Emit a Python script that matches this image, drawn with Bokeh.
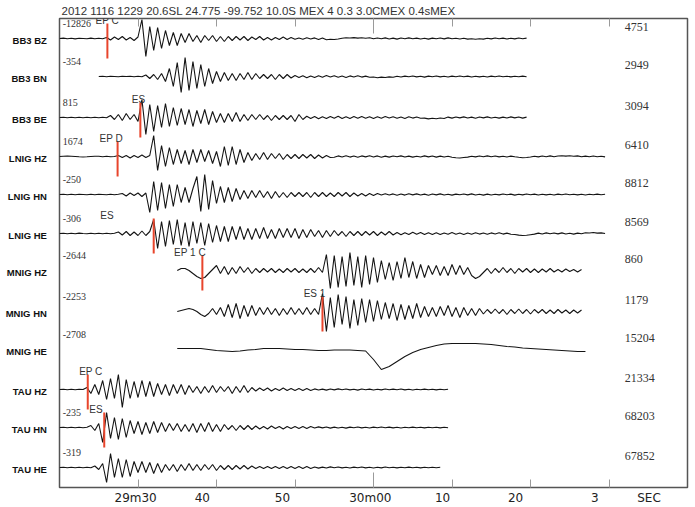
from bokeh.plotting import figure
from bokeh.models import Range1d, FixedTicker, LinearAxis, ColumnDataSource
from bokeh.core.properties import value
from bokeh.embed import file_html
from bokeh.resources import INLINE

# ---------------- data (time in seconds after 29m20s, amplitudes in display units) --------------
header = "2012 1116 1229 20.6SL  24.775 -99.752 10.0S MEX  4 0.3 3.0CMEX 0.4sMEX"
stations = ["BB3  BZ", "BB3  BN", "BB3  BE", "LNIG  HZ", "LNIG  HN", "LNIG  HE",
            "MNIG  HZ", "MNIG  HN", "MNIG  HE", "TAU  HZ", "TAU  HN", "TAU  HE"]
left_counts = ["-12826", "-354", "815", "1674", "-250", "-306",
               "-2644", "-2253", "-2708", "", "-235", "-319"]
right_counts = ["4751", "2949", "3094", "6410", "8812", "8569",
                "860", "1179", "15204", "21334", "68203", "67852"]
trace_start = [0, 5, 0, 0, 0, 0, 15, 15, 15, 0, 0, 0]
trace_step = [0.5, 0.5, 0.5, 0.5, 0.5, 0.5, 0.5, 0.5, 1.0, 0.5, 0.5, 0.5]

tick_seconds = [10, 20, 30, 40, 50, 60, 70]
minute_ticks = [40]
tick_labels = ["29m30", "40", "50", "30m00", "10", "20", "3", "SEC"]
label_seconds = [9.7, 18.2, 28.4, 39.6, 48.8, 58.1, 68.2, 75.1]

pick_rows = [0, 2, 3, 5, 6, 7, 9, 10]
pick_seconds = [6.1, 10.3, 7.4, 12.0, 18.2, 33.5, 3.6, 5.7]
pick_names = ["EP  C", "ES", "EP  D", "ES", "EP  1 C", "ES  1", "EP  C", "ES"]
pick_label_seconds = [4.6, 9.2, 5.1, 5.2, 14.6, 31.1, 2.5, 3.8]

bb3_bz = [0, 0.4, -0.3, 0.3, -0.4, 0.3, 0, -0.3, 0.4, -0.3, 0.3, -0.2,
          1, -1.5, 1.5, -1, 2, -1.5, 1, -2, 1.5,
          19, -18, 12, -12, 11, -10,
          8, -7, 6, -7, 5, -4, 5,
          -3, 3, -4, 3, -2, 3, -3, 2, -3, 2,
          -2, 2, -1.5, 2, -2, 1.5, -1, 2, -1.5, 1, -1.5, 1, -1, 1.5, -1, 1,
          -0.8, 0.6, -0.7, 0.8, -0.5, 0.6, -0.9, 0.5, -1.2, -0.8,
          -1.0, -0.5, 0.3, 0.8, 0.5, 0.9, 0.4, 0.7, 0.2, 0.8,
          -0.3, 0.5, -0.2, 0.6, -0.5, 0.4, -0.6, 0.5, -0.3, 0.6,
          -0.2, 0.4, -0.5, 0.3, -0.6, 0.4, -0.2, 0.5, -0.4, 0.6,
          -0.3, 0.3, -0.5, 0.2, -0.6, -0.2, -0.7, -0.3, -0.6, 0.2,
          -0.4, 0.5, -0.2, 0.4, -0.5, 0.3, -0.4, 0.5, -0.3, 0.4]
bb3_bn = [0, 0.3, -0.3, 0.3, 0, -0.3, 0.3, 0, 0.3, -0.3, 0.3, -0.3,
          1.5, -2, 2, -3, 3,
          -5, 8, -10, 14, -16, 19, -14, 15, -12,
          12, -10, 8, -7,
          5, -5, 4, -4, 3, -4, 3, -3, 4, -3,
          3, -2, 2, -2, 2, -3, 2, -2, 2, -1.5,
          1, -1, 0.8, -1.2, 0.6, -1, 0.7, -0.8, 0.9, -0.6,
          0.8, -0.7, 0.5, -0.9, 0.6, -0.5, 0.7, -0.6, 0.4, -0.8,
          -0.5, -1.2, -0.6, -1, -0.4, -0.8, 0.3, -0.5, 0.4, -0.3,
          0.5, -0.4, 0.3, -0.6, 0.4, -0.3, 0.5, -0.4, 0.3, -0.5,
          0.4, -0.3, 0.5, -0.2, 0.4, -0.5, 0.3, -0.4, 0.2, -0.5,
          0.4, -0.3, 0.5, -0.2, 0.3, -0.4, 0.2, -0.3, 0.4, -0.2]
bb3_be = [0, 0.3, -0.3, 0.3, -0.2, 0.3, -0.3, 0.2, -0.3, 0.3, -0.2, 0.3, -0.3,
          2, -2, 3, -3, 4, -2, 3, -4,
          18, -17, 13, -14, 12, -10, 14,
          -9, 10, -8, 9, -7, 8, -9, 7, -6, 8, -7, 6,
          -5, 4, -5, 4, -4, 5, -4, 3,
          -3, 3, -2, 3, -2, 2, -3, 2, -2, 2, -2, 2,
          -4, 3, -2,
          1.2, -1, 1, -1.2, 0.8, -1, 1, -0.8, 1.2, -1,
          0.8, -1, 0.9, -0.8, 1, -0.7, 0.8, -1, 0.7, -0.8,
          0.9, -0.6, 0.8, -0.7, 0.6, -0.9, 0.7, -0.6, 0.5, -0.8,
          -0.6, -1.4, -0.8, -1.3, -0.5, -1, 0.4, -0.6, 0.5, -0.4,
          0.6, -0.5, 0.4, -0.7, 0.5, -0.4, 0.6, -0.5, 0.3, -0.6,
          0.4, -0.5, 0.6, -0.4, 0.5, -0.6, 0.4]
lnig_hz = [0, 0.3, 0.5, 0.3, 0, -0.3, -0.5, -0.3, 0, 0.3, 0.2, -0.3, 0.3, -0.2, 0,
           1, -1, 1, -1.5, 1, -1, 1.5, -1, 1,
           21, -14, 11, -10, 9,
           -8, 7, -7, 6, -8, 7, -6, 7, -5, 6, -7, 5,
           -10, 10, -9, 10, -8, 7, -6,
           4, -4, 3, -3, 4, -3, 3, -2, 3, -3, 2, -2,
           2, -2, 2, -1.5, 2, -2, 1.5, -1.5, 1, -1,
           -0.7, 0.6, -0.5, 0.8, -0.6, 0.5, -0.7, 0.6, -0.4, 0.7,
           -0.5, 0.6, -0.8, 0.4, -0.6, 0.5, -0.3, 0.6, -0.5, 0.4,
           -0.6, 0.3, -0.5, 0.6, -0.4, 0.5, -0.6, 0.4, -0.5, 0.3,
           -0.8, -1.2, -1.5, -1.0, -0.6, 0.2, -0.4, 0.5, -0.3, 0.6,
           -0.2, 0.5, -0.4, 0.3, -0.5, 0.4, -0.3, -0.8, -1.2, -1.0,
           -0.5, 0.3, -0.4, 0.5, -0.2, 0.6, -0.3, 0.5, 0.8, 0.4,
           0.7, 0.3, 0.6, -0.2, 0.4, -0.3, 0.5, -0.2, 0.3, -0.4]
lnig_hn = [0, 0.3, -0.3, 0.3, -0.3, 0.3, 0, -0.3, 0.3, -0.3, 0.3, 0, -0.3, 0.3, -0.3, 0.3,
           1, -1.5, 1.5, -1, 1.5, -2, 1.5,
           -18, 13, -16, 12, -14, 10, -12, 10,
           -8, 7, -8, 6,
           18, -17, 20, -15, 14,
           -9, 8, -8, 7, -7, 6,
           -5, 4, -4, 4, -3, 4, -3, 3, -4, 3, -3, 2, -3, 2,
           -2, 2, -2, 2, -3, 2, -2, 2, -2, 1.5, -2, 2, -1.5, 2, -2, 1.5, -1.5, 1, -1.5, 1, -1, 1,
           -0.6, 0.7, -0.5, 0.6, -0.7, 0.5, -0.6, 0.8, -0.4, 0.6,
           -0.5, 0.4, -0.7, 0.5, -0.4, 0.6, -0.5, 0.3, -0.6, 0.4,
           -0.3, 0.5, -0.4, 0.6, -0.5, 0.3, -0.6, 0.4, -0.5, 0.2,
           -0.4, 0.5, -0.3, 0.4, -0.6, 0.3, -0.4, 0.5, -0.2, 0.4,
           -0.5, 0.3, -0.4, 0.2, -0.5, 0.4, -0.3, 0.5, -0.2, 0.3,
           -0.4, 0.3, -0.5, 0.2, -0.3, 0.4, -0.2, 0.3]
lnig_he = [0, 0.3, -0.3, 0.3, -0.3, 0.4, 0, -0.3, 0.3, -0.3, 0.3, -0.2, 0.3, -0.3, 0.3,
           1.5, -1.5, 2, -2, 1.5, -2, 2.5, -2, 2,
           14, -15, 12, -13, 13, -11, 14, -12, 11, -13, 12, -10, 11, -12, 10, -9,
           8, -8, 7, -8, 7, -6, 7, -6,
           5, -6, 5, -5, 6, -5, 4, -5, 5, -4, 5, -4,
           5, -5, 4, -4, 4, -3, 3, -4, 3, -3, 3, -2,
           2, -3, 2, -2, 2, -2, 2, -1.5, 2, -2, 1.5, -1.5, 2, -1.5,
           1, -1.2, 0.8, -1, 1.2, -0.8, 1, -1, 0.7, -0.9,
           0.8, -1, 0.6, -0.8, 0.9, -0.7, 0.5, -0.9, 0.6, -0.7,
           0.8, -0.6, 0.5, -0.8, 0.6, -0.5, 0.7, -0.6, 0.4, -0.7,
           -1, -1.6, -2, -1.8, -1.2, -0.6, 0.4, -0.5, 0.6, -0.3,
           0.5, -0.4, 0.6, -0.5, 0.3, -0.6, 0.4, -0.3, 0.8, 0.5,
           1, 0.4, 0.6, 0]
mnig_hz = [0, 2, 2, 0, -3, -6, -8, -7,
           -3, 1,
           5, -3, 4, -4, 3, -3, 4, -2, 3, -3,
           2, -2, 2, -1.5, 2, -2, 1.5, -2, 2, -1.5, 2, -2, 1.5, -2, 2, -2, 3, -2,
           16, -18, 15, -17, 14, -16, 18, -15, 14, -17, 15, -14, 13, -12,
           10, -9, 8, -10, 9, -8, 13, -7, 9, -8, 6, -7,
           5, -4, 5, -5, 4, -5, 6, -4, 5, -4, 3, -5, -8, -6,
           -2, 2, -3, 2, -2, 3, -2, 2, -3, 2, -1.5, 2, -2, 1.5, -2, 1.5, -1.5, 2, -1.5, 1,
           -1.5, 1.5, -1, 1, -1.5, 1]
mnig_hn = [0, 1, 2, 3, 2, 0, -3, -5,
           -2, 3, -3, 4,
           -5, 7, -6, 8, -7, 6, -5, 6,
           -4, 4, -3, 4, -3, 3, -4, 3, -3, 4, -3, 3, -3, 4, -3, 3, -3,
           18, -20, 14, -16, 17, -13, 15, -17, 12, -14, 13, -11, 12, -10, 11,
           -8, 9, -7, 8, -9, 7, -8, 6, -7, 8, -6, 5,
           -5, 4, -5, 5, -4, 6, -5, 4, -6, 4, -4, 3, -4, 3,
           -2.5, 2, -2, 2.5, -2, 2, -3, 2, -2, 2.5, -2, 2, -2.5, 2, -1.5, 2, -2, 1.5, -2, 2,
           -1.5, 1.5, -2, 1.5, -1.5, 1.5]
mnig_he = [1, 1, 1, 1, 0, -1, -1.5, -2, -1.5, -0.5,
           0, 1, 1, 1, 0.5, 0, 0, -0.5, -1, -1,
           -0.5, -0.5, -0.5, -1, -1.5, -10, -20, -17, -12, -7,
           -3, 0, 2, 4, 5.5, 6, 6, 6, 6, 5.5,
           5, 4, 3, 2.5, 1.5, 1, 0.5, 0, -0.5, -1,
           -1.5, -2, -2]
tau_hz = [0, 0.3, -0.3, 0.3, -0.3, 0.3, 0,
          2, -4, 5, -5,
          9, -10, 11, -9, 15, -18,
          10, -9, 8, -8, 9, -7, 8, -7,
          6, -5, 5, -6, 5, -4, 5, -5, 4,
          -3, 3, -4, 3, -3, 4, -3, 3, -2, 3, -4, 3, -3, 4, -3, 2,
          -1.5, 1.5, -1, 1.5, -1.5, 1, -1, 1.5, -1, 1, -1, 1, -1, 1, -1,
          0.6, -0.5, 0.4, -0.6, 0.5, -0.4, 0.6, -0.3, 0.5, -0.4,
          0.3, -0.6, 0.5, -0.3, 0.4, -0.5, 0.3, -0.4, 0.5, -0.3,
          0.4, -0.2, 0.5, -0.4, 0.3, -0.5, 0.2, -0.3, 0.4, -0.2,
          0.3, -0.4, 0.2, -0.3, 0.2]
tau_hn = [0, 0.3, -0.3, 0.3, -0.3, 0.3, -0.3, 0.3,
          2, -3, 4,
          -15, 15, -11, 10, -12, 9, -10,
          7, -6, 6, -7, 5, -6, 6, -5, 5,
          -4, 4, -3, 4, -4, 3, -4,
          4, -5, 4, -4, 5, -4, 3, -4,
          3, -2, 2, -3, 2, -2, 2, -2,
          1.5, -1.5, 1, -1.5, 1.5, -1, 1, -1.5, 1, -1, 1, -1, 1, -1, 1,
          -0.5, 0.6, -0.4, 0.5, -0.6, 0.4, -0.5, 0.3, -0.6, 0.4,
          -0.3, 0.5, -0.4, 0.3, -0.5, 0.4, -0.3, 0.5, -0.2, 0.4,
          -0.4, 0.3, -0.5, 0.2, -0.3, 0.4, -0.2, 0.3, -0.4, 0.2,
          -0.3, 0.2, -0.4, 0.3, -0.2]
tau_he = [0, 0.3, -0.3, 0.3, -0.3, 0.3, -0.3, 0.3, -0.3,
          1.5, -2, 4,
          -15, 14, -10, 9, -10, 8, -9,
          6, -5, 6, -5, 5, -6, 4, -5,
          3, -3, 3, -4, 3, -3, 4, -3, 3, -3, 3, -2, 3, -3, 2,
          -2, 2, -2, 2, -1.5, 2, -1.5, 1.5,
          -1, 1, -1, 1, -1, 1, -1, 1, -1, 1, -1, 1, -1, 1, -1,
          0.5, -0.6, 0.4, -0.5, 0.6, -0.3, 0.5, -0.4, 0.3, -0.5,
          0.4, -0.3, 0.5, -0.4, 0.2, -0.5, 0.3, -0.4, 0.5, -0.2,
          0.3, -0.4, 0.2, -0.3, 0.4, -0.2, 0.3, -0.4, 0.2, -0.3,
          0.2, -0.3, 0.2]

traces = [bb3_bz, bb3_bn, bb3_be, lnig_hz, lnig_hn, lnig_he,
          mnig_hz, mnig_hn, mnig_he, tau_hz, tau_hn, tau_he]

# ---------------- layout ----------------
FW, FH = 628, 469
row_base = [449, 411, 370, 331, 293, 254, 217, 176, 138, 98, 60, 20]   # trace baselines (px from frame bottom)

p = figure(frame_width=FW, frame_height=FH, x_range=Range1d(0, 80), y_range=Range1d(0, FH),
           output_backend="svg", toolbar_location=None,
           x_axis_location=None, y_axis_location=None,
           min_border_left=59, min_border_right=3, min_border_top=18, min_border_bottom=16)
p.xgrid.visible = False
p.ygrid.visible = False
p.outline_line_color = "#555555"
p.outline_line_width = 1.5
p.background_fill_color = "white"
p.border_fill_color = "white"

p.title.text = header
p.title.text_font = "Liberation Sans"
p.title.text_font_size = "11.5px"
p.title.text_font_style = "normal"
p.title.text_color = "#333333"
p.title.align = "left"
p.title.offset = 2
p.title.standoff = 3


def tick_axis():
    ax = LinearAxis(ticker=FixedTicker(ticks=tick_seconds, minor_ticks=minute_ticks))
    ax.axis_line_color = None
    ax.major_tick_in = 8
    ax.major_tick_out = 0
    ax.minor_tick_in = 15
    ax.minor_tick_out = 0
    ax.major_tick_line_color = "#9a9a9a"
    ax.minor_tick_line_color = "#9a9a9a"
    ax.major_label_text_font_size = "1px"
    ax.major_label_text_color = None
    ax.major_label_standoff = 0
    return ax


p.add_layout(tick_axis(), "above")
p.add_layout(tick_axis(), "below")

lab = LinearAxis(ticker=FixedTicker(ticks=label_seconds, minor_ticks=[]),
                 major_label_overrides=dict(zip(label_seconds, tick_labels)))
lab.axis_line_color = None
lab.major_tick_line_color = None
lab.minor_tick_line_color = None
lab.major_tick_in = 0
lab.major_tick_out = 0
lab.major_label_standoff = 3
lab.major_label_text_font = "DejaVu Sans"
lab.major_label_text_font_size = "12px"
lab.major_label_text_color = "#222222"
p.add_layout(lab, "below")

row_label_y = [b - 2 for b in row_base]
rows_ax = LinearAxis(ticker=FixedTicker(ticks=row_label_y, minor_ticks=[]),
                     major_label_overrides=dict(zip(row_label_y, stations)))
rows_ax.axis_line_color = None
rows_ax.major_tick_line_color = None
rows_ax.minor_tick_line_color = None
rows_ax.major_tick_in = 0
rows_ax.major_tick_out = 0
rows_ax.major_label_standoff = 10
rows_ax.major_label_text_font = "Liberation Sans"
rows_ax.major_label_text_font_style = "bold"
rows_ax.major_label_text_font_size = "9.5px"
rows_ax.major_label_text_color = "#111111"
p.add_layout(rows_ax, "left")

# traces
for k, amps in enumerate(traces):
    xs = [trace_start[k] + trace_step[k] * i for i in range(len(amps))]
    ys = [row_base[k] + a for a in amps]
    p.line(xs, ys, line_color="#141414", line_width=1.1)

# picks
for r, t, name, lt in zip(pick_rows, pick_seconds, pick_names, pick_label_seconds):
    p.segment(x0=[t], y0=[row_base[r] + 15], x1=[t], y1=[row_base[r] - 20],
              line_color="#e8452c", line_width=2)
    p.text(x=[lt], y=[row_base[r] + 18], text=[name], text_font=value("Liberation Sans"),
           text_font_size="10px", text_color="#333333", text_baseline="middle", text_align="left")

# amplitude counts
lsrc = ColumnDataSource(dict(x=[0.4] * len(left_counts), y=[b + 15 for b in row_base], t=left_counts))
p.text(x="x", y="y", text="t", source=lsrc, text_font=value("Liberation Serif"),
       text_font_size="10px", text_color="#333333", text_baseline="middle", text_align="left")
rsrc = ColumnDataSource(dict(x=[72.0] * len(right_counts), y=[b + 12 for b in row_base], t=right_counts))
p.text(x="x", y="y", text="t", source=rsrc, text_font=value("Liberation Serif"),
       text_font_size="12px", text_color="#333333", text_baseline="middle", text_align="left")

open("out.html", "w").write(file_html(p, INLINE))
